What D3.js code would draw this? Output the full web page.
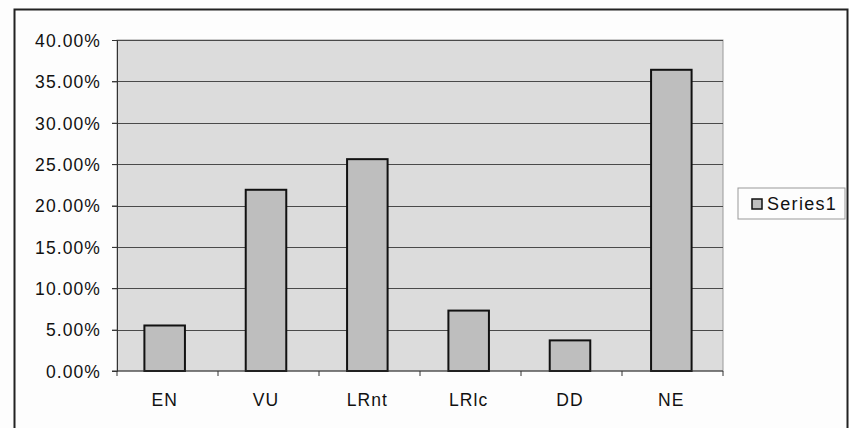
<!DOCTYPE html>
<html>
    <head>
        <style>
            body {
                margin: 0;
                background: #fdfdfd;
                font-family: Arial, 'Liberation Sans', sans-serif;
            }
            .axis text {
                font-size: 17.5px;
                letter-spacing: 1.1px;
                fill: #111;
            }
            .axis path, .axis line {
                stroke: #333;
            }
        </style>
    </head>
    <body>
        <script src='https://d3js.org/d3.v7.min.js'></script>
        <script>
            const categories = ['EN', 'VU', 'LRnt', 'LRlc', 'DD', 'NE'];
            const values = [0.055, 0.219, 0.256, 0.073, 0.037, 0.364];
            const yTicks = [0, 0.05, 0.10, 0.15, 0.20, 0.25, 0.30, 0.35, 0.40];
            const seriesName = 'Series1';

            const width = 849,
                height = 428;
            const plot = { left: 117, right: 723, top: 40, bottom: 371 };

            const svg = d3.select('body').append('svg')
                .attr('width', width)
                .attr('height', height);

            // outer chart border (bottom edge is cut off in the scan)
            svg.append('rect')
                .attr('x', 14.5).attr('y', 9.5)
                .attr('width', 833).attr('height', 440)
                .attr('fill', 'none')
                .attr('stroke', '#222')
                .attr('stroke-width', 2);

            // scan is slightly skewed, bars sit a few px left of the axis grid
            const x = d3.scaleBand()
                .domain(categories)
                .range([plot.left - 3, plot.right - 1])
                .paddingInner(0.6)
                .paddingOuter(0.3);

            const y = d3.scaleLinear()
                .domain([0, 0.4])
                .range([plot.bottom, plot.top]);

            // plot area
            svg.append('rect')
                .attr('x', plot.left).attr('y', plot.top)
                .attr('width', plot.right - plot.left)
                .attr('height', plot.bottom - plot.top)
                .attr('fill', '#dcdcdc')
                .attr('stroke', '#9a9a9a');

            // gridlines
            svg.append('g')
                .selectAll('line')
                .data(yTicks.slice(1))
                .join('line')
                .attr('x1', plot.left - 5).attr('x2', plot.right)
                .attr('y1', d => Math.round(y(d)) + 0.5)
                .attr('y2', d => Math.round(y(d)) + 0.5)
                .attr('stroke', '#4a4a4a')
                .attr('stroke-width', 1.2);

            // bars
            svg.append('g')
                .selectAll('rect')
                .data(values)
                .join('rect')
                .attr('x', (d, i) => x(categories[i]))
                .attr('y', d => y(d))
                .attr('width', x.bandwidth())
                .attr('height', d => y(0) - y(d))
                .attr('fill', '#bebebe')
                .attr('stroke', '#111')
                .attr('stroke-width', 2);

            // y axis
            const yAxis = svg.append('g')
                .attr('class', 'axis')
                .attr('transform', `translate(${plot.left},0)`)
                .call(d3.axisLeft(y)
                    .tickValues(yTicks)
                    .tickSize(5)
                    .tickPadding(11)
                    .tickFormat(d3.format('.2%')));
            yAxis.selectAll('text').attr('dy', '0.36em');

            // x axis with ticks between categories
            const xAxis = svg.append('g')
                .attr('class', 'axis')
                .attr('transform', `translate(0,${plot.bottom})`);
            xAxis.append('line')
                .attr('x1', plot.left - 5).attr('x2', plot.right)
                .attr('stroke', '#333').attr('stroke-width', 1.2);
            xAxis.selectAll('line.tick')
                .data(d3.range(categories.length + 1))
                .join('line')
                .attr('class', 'tick')
                .attr('x1', i => plot.left + i * (plot.right - plot.left) / categories.length)
                .attr('x2', i => plot.left + i * (plot.right - plot.left) / categories.length)
                .attr('y1', 0).attr('y2', 5)
                .attr('stroke', '#333');
            xAxis.selectAll('text')
                .data(categories)
                .join('text')
                .attr('x', d => x(d) + x.bandwidth() / 2)
                .attr('y', 35)
                .attr('text-anchor', 'middle')
                .text(d => d);

            // legend
            const legend = svg.append('g')
                .attr('transform', 'translate(738,188)');
            legend.append('rect')
                .attr('width', 107).attr('height', 31)
                .attr('fill', '#fdfdfd')
                .attr('stroke', '#999');
            legend.append('rect')
                .attr('x', 14).attr('y', 11)
                .attr('width', 10).attr('height', 10)
                .attr('fill', '#bebebe')
                .attr('stroke', '#111')
                .attr('stroke-width', 1.5);
            legend.append('text')
                .attr('x', 29).attr('y', 22)
                .attr('font-size', 18)
                .attr('letter-spacing', '1.3px')
                .attr('fill', '#111')
                .text(seriesName);
        </script>
    </body>
</html>
